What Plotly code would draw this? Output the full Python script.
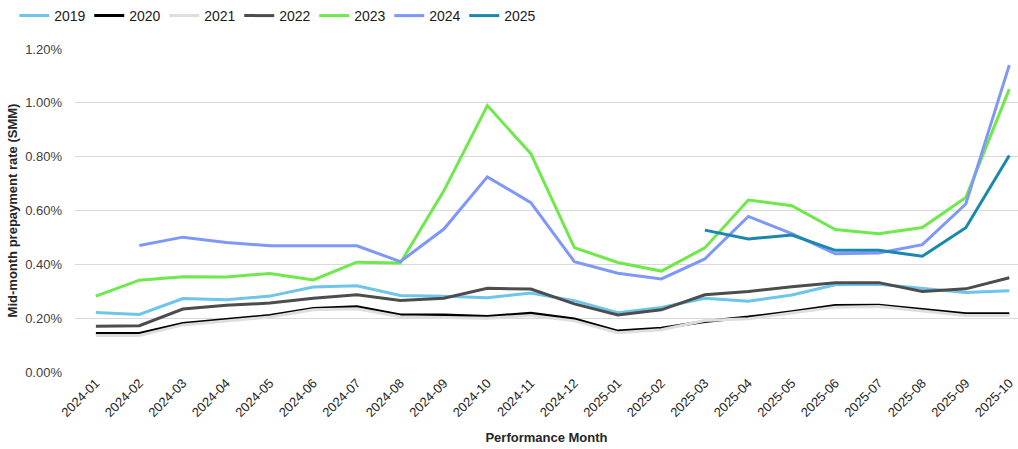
import plotly.graph_objects as go

# Performance months on the category axis
months = [
    "2024-01", "2024-02", "2024-03", "2024-04", "2024-05", "2024-06",
    "2024-07", "2024-08", "2024-09", "2024-10", "2024-11", "2024-12",
    "2025-01", "2025-02", "2025-03", "2025-04", "2025-05", "2025-06",
    "2025-07", "2025-08", "2025-09", "2025-10",
]

# Mid-month SMM (in percent) by origination vintage
smm_2019 = [0.221, 0.214, 0.273, 0.268, 0.282, 0.316, 0.320, 0.284, 0.281, 0.276, 0.293,
            0.265, 0.220, 0.240, 0.274, 0.263, 0.286, 0.324, 0.326, 0.310, 0.295, 0.302]
smm_2020 = [0.143, 0.143, 0.180, 0.196, 0.210, 0.236, 0.242, 0.212, 0.212, 0.206, 0.218,
            0.197, 0.152, 0.163, 0.188, 0.204, 0.224, 0.247, 0.248, 0.232, 0.216, 0.216]
smm_2021 = [0.136, 0.136, 0.175, 0.190, 0.204, 0.231, 0.235, 0.205, 0.203, 0.200, 0.210,
            0.190, 0.146, 0.157, 0.191, 0.198, 0.219, 0.241, 0.243, 0.226, 0.210, 0.210]
smm_2022 = [0.170, 0.172, 0.234, 0.248, 0.256, 0.274, 0.287, 0.266, 0.274, 0.311, 0.308,
            0.253, 0.212, 0.231, 0.287, 0.299, 0.317, 0.332, 0.332, 0.299, 0.309, 0.350]
smm_2023 = [0.282, 0.341, 0.354, 0.353, 0.366, 0.342, 0.408, 0.405, 0.673, 0.990, 0.811,
            0.462, 0.407, 0.375, 0.461, 0.639, 0.618, 0.529, 0.514, 0.537, 0.648, 1.051]
smm_2024 = [None, 0.470, 0.501, 0.481, 0.469, 0.469, 0.469, 0.410, 0.531, 0.725, 0.629,
            0.410, 0.367, 0.346, 0.420, 0.578, 0.514, 0.439, 0.442, 0.473, 0.624, 1.140]
smm_2025 = [None, None, None, None, None, None, None, None, None, None, None,
            None, None, None, 0.527, 0.494, 0.509, 0.452, 0.452, 0.430, 0.536, 0.804]

y_ticks = [0.0, 0.2, 0.4, 0.6, 0.8, 1.0, 1.2]

series = [
    ("2019", smm_2019, "#6EC5EA"),
    ("2020", smm_2020, "#000000"),
    ("2021", smm_2021, "#DEDEDE"),
    ("2022", smm_2022, "#4D4D4D"),
    ("2023", smm_2023, "#6FE84A"),
    ("2024", smm_2024, "#7F97FA"),
    ("2025", smm_2025, "#1A87AD"),
]

FONT = "Liberation Sans, Arial, sans-serif"

fig = go.Figure()
for name, vals, color in series:
    fig.add_trace(go.Scatter(
        x=months,
        y=[v / 100 if v is not None else None for v in vals],
        name=name,
        mode="lines",
        line=dict(color=color, width=3),
        connectgaps=False,
    ))

fig.update_layout(
    width=1018,
    height=449,
    margin=dict(l=75, r=0, t=49, b=77),
    paper_bgcolor="white",
    plot_bgcolor="white",
    font=dict(family=FONT, color="#262626"),
    showlegend=True,
    legend=dict(
        orientation="h",
        xref="container", yref="container",
        x=0.014, y=1.0, xanchor="left", yanchor="top",
        font=dict(family=FONT, size=14, color="#1a1a1a"),
        entrywidth=30, entrywidthmode="pixels",
        itemwidth=30,
        bgcolor="rgba(0,0,0,0)",
    ),
    xaxis=dict(
        type="category",
        range=[-0.48, 21.2],
        showgrid=False,
        showline=False,
        zeroline=False,
        ticks="",
        tickangle=-45,
        tickfont=dict(family=FONT, size=13, color="#262626"),
        title=dict(text="<b>Performance Month</b>",
                   font=dict(family=FONT, size=13, color="#262626"),
                   standoff=13),
    ),
    yaxis=dict(
        range=[0, 1.2 / 100],
        tickvals=[t / 100 for t in y_ticks],
        tickformat=".2%",
        showgrid=True,
        gridcolor="#D9D9D9",
        gridwidth=1,
        zeroline=False,
        showline=False,
        ticks="",
        ticklabelstandoff=12,
        tickfont=dict(family=FONT, size=13, color="#404040"),
        title=dict(text="<b>Mid-month prepayment rate (SMM)</b>",
                   font=dict(family=FONT, size=13, color="#262626"),
                   standoff=4),
    ),
)

fig.write_html("out.html")
